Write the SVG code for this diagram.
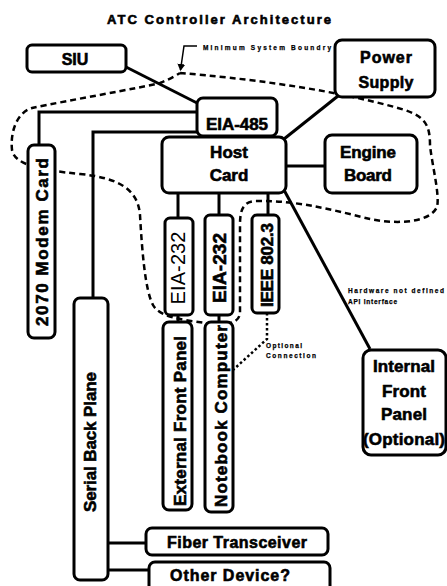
<svg xmlns="http://www.w3.org/2000/svg" width="447" height="586" viewBox="0 0 447 586">
<style>
.box{fill:#fff;stroke:#000;stroke-width:3}
.ln{fill:none;stroke:#000;stroke-width:3}
.t{font-family:"Liberation Sans",Arial,sans-serif;font-weight:bold;fill:#000;stroke:#000;stroke-width:0.6}
.thin{font-family:"Liberation Sans",Arial,sans-serif;font-weight:normal;fill:#000}
.small{font-family:"Liberation Sans",Arial,sans-serif;font-weight:bold;fill:#000;font-size:6.5px;stroke:#000;stroke-width:0.25}
</style>
<defs>
<marker id="arr" markerWidth="8" markerHeight="8" refX="6" refY="4" orient="auto" markerUnits="userSpaceOnUse">
<path d="M0,0 L7,4 L0,8 Z" fill="#000"/>
</marker>
</defs>
<rect width="447" height="586" fill="#fff"/>
<text class="t" x="219" y="24" font-size="13" text-anchor="middle" textLength="224">ATC Controller Architecture</text>

<g id="connectors">
<line class="ln" x1="126" y1="67" x2="199" y2="104"/>
<line class="ln" x1="343" y1="92" x2="284" y2="139"/>
<polyline class="ln" points="197,112 39,112 39,145" stroke-width="3.5"/>
<polyline class="ln" points="197,132 93,132 93,298" stroke-width="2.5"/>
<line class="ln" x1="286" y1="166" x2="325" y2="166"/>
<line class="ln" x1="178" y1="193" x2="178" y2="218"/>
<line class="ln" x1="219" y1="193" x2="219" y2="215"/>
<line class="ln" x1="268" y1="193" x2="268" y2="215"/>
<line class="ln" x1="178" y1="315" x2="178" y2="322" stroke-width="2"/>
<line class="ln" x1="219" y1="315" x2="219" y2="322" stroke-width="2"/>
<line class="ln" x1="284" y1="190" x2="370" y2="349" stroke-width="2.2"/>
<line class="ln" x1="108" y1="543" x2="146" y2="543"/>
<line class="ln" x1="108" y1="570" x2="149" y2="570"/>
<polyline fill="none" stroke="#000" stroke-width="2.5" stroke-dasharray="2.5 2.5" points="267,313 267,339 233,370"/>
<polyline fill="none" stroke="#000" stroke-width="1.5" points="197,46 184,46 180.5,70" marker-end="url(#arr)"/>
<path fill="none" stroke="#000" stroke-width="2.5" stroke-dasharray="6 4" d="M180,73 C240,78 330,88 405,110 C425,117 430,125 430,145 C432,165 440,195 437,207 C430,222 400,225 370,219 C340,212 300,200 255,201 C243,202 240,210 240,225 L240,312 C240,324 225,326 205,323 C185,320 160,318 153,305 C145,290 142,250 140,215 C138,190 120,178 80,174 C40,170 15,165 12,150 C10,130 18,112 32,108 C70,100 140,88 160,83 C168,80 175,76 180,73"/>
</g>

<text class="small" x="203" y="50" font-size="7" textLength="128">Minimum System Boundry</text>
<text class="small" x="348" y="293" textLength="96">Hardware not defined</text>
<text class="small" x="348" y="304" textLength="49">API Interface</text>
<text class="small" x="266" y="348" textLength="36">Optional</text>
<text class="small" x="266" y="358" textLength="50">Connection</text>

<g id="siu"><rect class="box" x="27" y="45" width="99" height="27" rx="5"/><text class="t" x="75" y="65" font-size="16" text-anchor="middle">SIU</text></g>
<g id="power"><rect class="box" x="335" y="40" width="100" height="57" rx="7"/><text class="t" x="386" y="63" font-size="16" text-anchor="middle" textLength="52">Power</text><text class="t" x="386" y="88" font-size="16" text-anchor="middle" textLength="55">Supply</text></g>
<g id="eia485"><rect class="box" x="197" y="98" width="80" height="38" rx="6"/><text class="t" x="237" y="130" font-size="17" text-anchor="middle" textLength="62">EIA-485</text></g>
<g id="host"><rect class="box" x="162" y="137" width="124" height="56" rx="7"/><text class="t" x="229" y="158" font-size="17" text-anchor="middle">Host</text><text class="t" x="229" y="181" font-size="17" text-anchor="middle">Card</text></g>
<g id="engine"><rect class="box" x="325" y="135" width="92" height="58" rx="7"/><text class="t" x="368" y="158" font-size="17" text-anchor="middle" textLength="56">Engine</text><text class="t" x="368" y="181" font-size="17" text-anchor="middle" textLength="48">Board</text></g>
<g id="modem"><rect class="box" x="28" y="145" width="27" height="193" rx="6"/><text class="t" transform="translate(48,242) rotate(-90)" font-size="17" text-anchor="middle" textLength="168">2070 Modem Card</text></g>
<g id="backplane"><rect class="box" x="74" y="298" width="34" height="282" rx="6"/><text class="t" transform="translate(96,442) rotate(-90)" font-size="17" text-anchor="middle" textLength="140">Serial Back Plane</text></g>
<g id="eia232a"><rect class="box" x="165" y="218" width="28" height="97" rx="5"/><text class="thin" transform="translate(185,268) rotate(-90)" font-size="20" text-anchor="middle" textLength="73">EIA-232</text></g>
<g id="eia232b"><rect class="box" x="205" y="215" width="28" height="100" rx="5"/><text class="t" transform="translate(226,268) rotate(-90)" font-size="19" text-anchor="middle" textLength="70">EIA-232</text></g>
<g id="ieee"><rect class="box" x="252" y="215" width="27" height="98" rx="5"/><text class="t" transform="translate(273,265) rotate(-90)" font-size="17" text-anchor="middle" textLength="84">IEEE 802.3</text></g>
<g id="extpanel"><rect class="box" x="163" y="322" width="29" height="188" rx="6"/><text class="t" transform="translate(186,421) rotate(-90)" font-size="17" text-anchor="middle" textLength="170">External Front Panel</text></g>
<g id="notebook"><rect class="box" x="205" y="322" width="28" height="190" rx="6"/><text class="t" transform="translate(227,416) rotate(-90)" font-size="17" text-anchor="middle" textLength="182">Notebook Computer</text></g>
<g id="intpanel"><rect class="box" x="363" y="350" width="83" height="105" rx="8"/><text class="t" x="404" y="372" font-size="17" text-anchor="middle" textLength="62">Internal</text><text class="t" x="404" y="397" font-size="17" text-anchor="middle" textLength="44">Front</text><text class="t" x="404" y="420" font-size="17" text-anchor="middle" textLength="46">Panel</text><text class="t" x="404" y="445" font-size="17" text-anchor="middle" textLength="82">(Optional)</text></g>
<g id="fiber"><rect class="box" x="146" y="528" width="182" height="27" rx="6"/><text class="t" x="237" y="548" font-size="16" text-anchor="middle" textLength="140">Fiber Transceiver</text></g>
<g id="other"><rect class="box" x="149" y="562" width="181" height="32" rx="6"/><text class="t" x="230" y="581" font-size="16" text-anchor="middle" textLength="120">Other Device?</text></g>
</svg>
